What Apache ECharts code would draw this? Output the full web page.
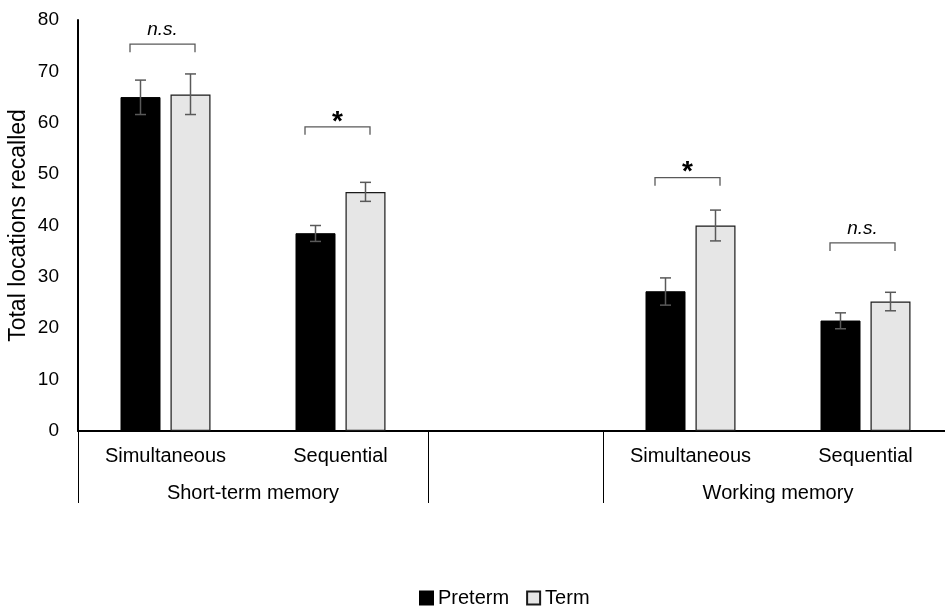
<!DOCTYPE html>
<html>
<head>
<meta charset="utf-8">
<script src="https://cdn.jsdelivr.net/npm/echarts@6/dist/echarts.min.js"></script>
<style>
  html, body { margin: 0; padding: 0; background: #fff; }
  #chart { width: 945px; height: 607px; }
</style>
</head>
<body>
<div id="chart"></div>
<script>
const categories = ["Simultaneous", "Sequential", "", "Simultaneous", "Sequential"];
const groupNames = ["Short-term memory", "Working memory"];
const groupCenters = [1, 4];
const groupBreaks = [0, 2, 3];

const preterm = [65.0, 38.5, null, 27.2, 21.5];
const pretermLow = [61.6, 36.9, null, 24.5, 19.9];
const pretermHigh = [68.3, 40.0, null, 29.8, 23.0];

const term = [65.5, 46.5, null, 40.0, 25.2];
const termLow = [61.6, 44.7, null, 37.0, 23.4];
const termHigh = [69.5, 48.4, null, 43.0, 27.0];

const bracketY = [75.3, 59.2, null, 49.3, 36.6];
const bracketText = ["n.s.", "*", "", "*", "n.s."];

const font = "Liberation Sans, Arial, sans-serif";

// error bar data: [category, low, high]
const errData = (low, high) =>
  categories.map((c, i) => [i, low[i], high[i]]).filter((d) => d[1] != null);

const errorBars = (shift) => (params, api) => {
  const top = api.coord([api.value(0), api.value(2)]);
  const bot = api.coord([api.value(0), api.value(1)]);
  const x = top[0] + shift;
  const cap = 5.5;
  const style = { stroke: "#595959", lineWidth: 1.5 };
  return {
    type: "group",
    children: [
      { type: "line", shape: { x1: x, y1: top[1], x2: x, y2: bot[1] }, style: style },
      { type: "line", shape: { x1: x - cap, y1: top[1], x2: x + cap, y2: top[1] }, style: style },
      { type: "line", shape: { x1: x - cap, y1: bot[1], x2: x + cap, y2: bot[1] }, style: style },
    ],
  };
};

const bracketData = categories
  .map((c, i) => [i, bracketY[i], bracketText[i]])
  .filter((d) => d[1] != null);

const renderBracket = (params, api) => {
  const p = api.coord([api.value(0), api.value(1)]);
  const cx = p[0] - 3;
  const half = 32.5;
  const label = bracketText[api.value(0)];
  const star = label === "*";
  return {
    type: "group",
    children: [
      {
        type: "polyline",
        shape: {
          points: [
            [cx - half, p[1] + 8],
            [cx - half, p[1]],
            [cx + half, p[1]],
            [cx + half, p[1] + 8],
          ],
        },
        style: { stroke: "#595959", lineWidth: 1.3, fill: null },
      },
      {
        type: "text",
        x: cx,
        y: star ? p[1] + 9 : p[1] - 5,
        style: {
          text: label,
          fontFamily: font,
          fontSize: star ? 28 : 19,
          fontWeight: star ? "bold" : "normal",
          fontStyle: star ? "normal" : "italic",
          fill: "#000",
          align: "center",
          verticalAlign: "bottom",
        },
      },
    ],
  };
};

const chart = echarts.init(document.getElementById("chart"));
chart.setOption({
  animation: false,
  textStyle: { fontFamily: font },
  grid: { left: 78, right: -8, top: 20, bottom: 176, outerBoundsMode: "none" },
  legend: {
    left: 414,
    top: 583,
    icon: "rect",
    itemWidth: 13,
    itemHeight: 13,
    itemGap: 17,
    textStyle: { fontSize: 20, color: "#000", fontFamily: font },
    data: ["Preterm", "Term"],
  },
  xAxis: [
    {
      type: "category",
      data: categories,
      position: "bottom",
      axisLine: { lineStyle: { color: "#000", width: 2 } },
      axisTick: { show: false },
      axisLabel: { fontSize: 20, color: "#000", margin: 15, interval: 0 },
    },
    {
      type: "value",
      min: 0,
      max: 5,
      interval: 1,
      position: "bottom",
      splitLine: { show: false },
      axisLine: { show: false },
      axisTick: {
        show: true,
        customValues: groupBreaks,
        length: 72,
        lineStyle: { color: "#000", width: 1 },
      },
      axisLabel: {
        customValues: groupCenters,
        fontSize: 20,
        color: "#000",
        margin: 52,
        formatter: (v) => groupNames[groupCenters.indexOf(v)] || "",
      },
    },
  ],
  yAxis: {
    type: "value",
    min: 0,
    max: 80,
    interval: 10,
    name: "Total locations recalled",
    nameLocation: "middle",
    nameGap: 48,
    nameMoveOverlap: false,
    nameTextStyle: { fontSize: 23, color: "#000" },
    splitLine: { show: false },
    axisLine: { show: true, lineStyle: { color: "#000", width: 2 } },
    axisTick: { show: false },
    axisLabel: { fontSize: 19, color: "#000", margin: 19 },
  },
  series: [
    {
      name: "Preterm",
      type: "bar",
      data: preterm,
      barWidth: 40,
      barGap: "25%",
      itemStyle: { color: "#000", borderColor: "#000", borderWidth: 1 },
    },
    {
      name: "Term",
      type: "bar",
      data: term,
      barWidth: 40,
      itemStyle: { color: "#e6e6e6", borderColor: "#1a1a1a", borderWidth: 1.2 },
    },
    {
      type: "custom",
      data: errData(pretermLow, pretermHigh),
      encode: { x: 0, y: [1, 2] },
      renderItem: errorBars(-25),
      z: 5,
    },
    {
      type: "custom",
      data: errData(termLow, termHigh),
      encode: { x: 0, y: [1, 2] },
      renderItem: errorBars(25),
      z: 5,
    },
    {
      type: "custom",
      data: bracketData,
      encode: { x: 0, y: 1 },
      renderItem: renderBracket,
      z: 5,
    },
  ],
});
</script>
</body>
</html>
